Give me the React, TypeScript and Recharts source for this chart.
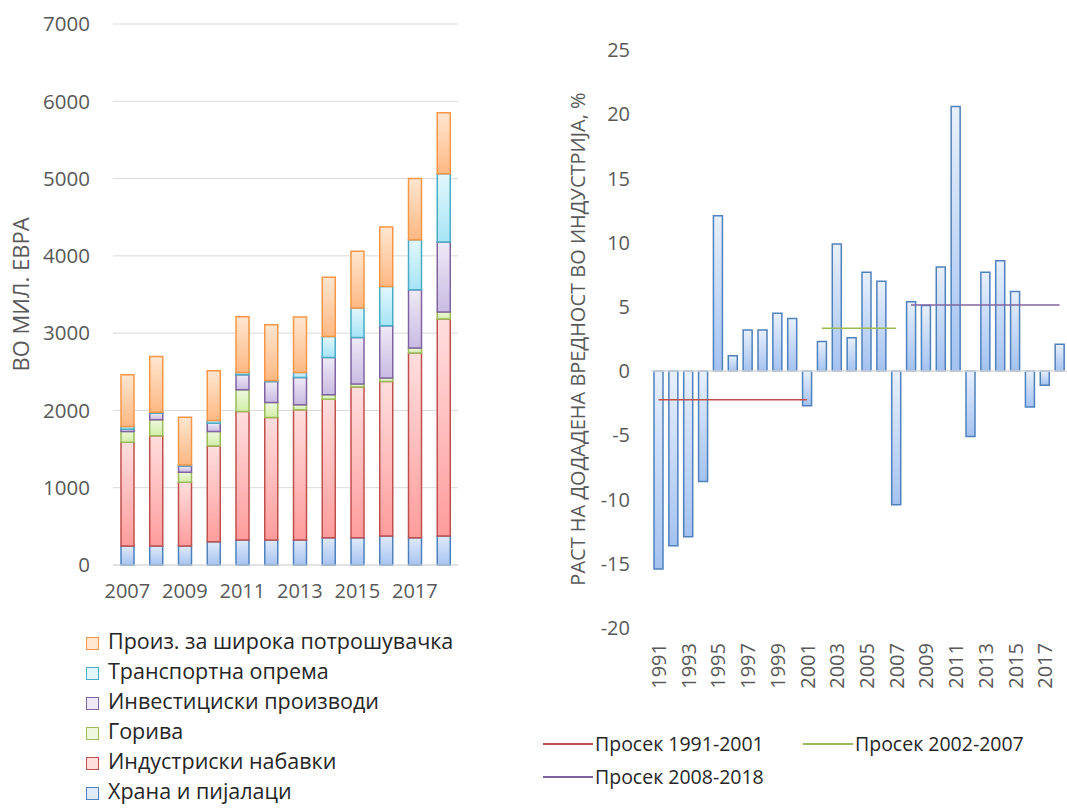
import React from 'react';
import {
  BarChart,
  Bar,
  ComposedChart,
  Line,
  XAxis,
  YAxis,
  CartesianGrid,
  ReferenceLine,
  Label,
} from 'recharts';

// Left chart: imports by product group, million EUR
const years = ['2007', '2008', '2009', '2010', '2011', '2012', '2013', '2014', '2015', '2016', '2017', '2018'];
const food = [246, 246, 246, 302, 324, 324, 324, 354, 354, 376, 354, 376];
const industrial = [1343, 1425, 825, 1239, 1662, 1584, 1684, 1792, 1948, 1998, 2388, 2807];
const fuels = [138, 207, 129, 186, 281, 194, 65, 56, 39, 44, 65, 90];
const invest = [31, 87, 82, 108, 194, 272, 353, 483, 603, 678, 755, 907];
const transport = [33, 13, 13, 34, 30, 13, 65, 272, 381, 509, 648, 881];
const consumer = [670, 720, 618, 644, 721, 722, 717, 765, 733, 769, 790, 790];
const leftTicks = [0, 1000, 2000, 3000, 4000, 5000, 6000, 7000];

// Right chart: growth of industrial value added, %
const growthYears = [
  '1991', '1992', '1993', '1994', '1995', '1996', '1997', '1998', '1999', '2000', '2001', '2002', '2003', '2004',
  '2005', '2006', '2007', '2008', '2009', '2010', '2011', '2012', '2013', '2014', '2015', '2016', '2017', '2018',
];
const growth = [
  -15.4, -13.6, -12.9, -8.6, 12.1, 1.2, 3.2, 3.2, 4.5, 4.1, -2.7, 2.3, 9.9, 2.6,
  7.7, 7.0, -10.4, 5.4, 5.1, 8.1, 20.6, -5.1, 7.7, 8.6, 6.2, -2.8, -1.1, 2.1,
];
const avg1991 = [
  -2.23, -2.23, -2.23, -2.23, -2.23, -2.23, -2.23, -2.23, -2.23, -2.23, -2.23, null, null, null,
  null, null, null, null, null, null, null, null, null, null, null, null, null, null,
];
const avg2002 = [
  null, null, null, null, null, null, null, null, null, null, null, 3.33, 3.33, 3.33,
  3.33, 3.33, 3.33, null, null, null, null, null, null, null, null, null, null, null,
];
const avg2008 = [
  null, null, null, null, null, null, null, null, null, null, null, null, null, null,
  null, null, null, 5.14, 5.14, 5.14, 5.14, 5.14, 5.14, 5.14, 5.14, 5.14, 5.14, 5.14,
];
const rightTicks = [-20, -15, -10, -5, 0, 5, 10, 15, 20, 25];

const FONT = '"Open Sans", sans-serif';
const TICK_COLOR = '#595959';

const series = [
  { key: 'food', name: 'Храна и пијалаци', stroke: '#4f81bd', light: '#dfeafb', dark: '#a7c4f0' },
  { key: 'industrial', name: 'Индустриски набавки', stroke: '#c0504d', light: '#ffdede', dark: '#ff9c9c' },
  { key: 'fuels', name: 'Горива', stroke: '#9bbb59', light: '#eef8de', dark: '#d2eea8' },
  { key: 'invest', name: 'Инвестициски производи', stroke: '#8064a2', light: '#efe9f7', dark: '#c9bbe2' },
  { key: 'transport', name: 'Транспортна опрема', stroke: '#4bacc6', light: '#e2f7fd', dark: '#a6e4f6' },
  { key: 'consumer', name: 'Произ. за широка потрошувачка', stroke: '#f79646', light: '#fee6d0', dark: '#fdb883' },
];

const importData = years.map((y, i) => ({
  year: y,
  food: food[i],
  industrial: industrial[i],
  fuels: fuels[i],
  invest: invest[i],
  transport: transport[i],
  consumer: consumer[i],
}));

const growthData = growthYears.map((y, i) => ({
  year: y,
  growth: growth[i],
  avg1991: avg1991[i],
  avg2002: avg2002[i],
  avg2008: avg2008[i],
}));

const averages = [
  { key: 'avg1991', name: 'Просек 1991-2001', color: '#c0504d' },
  { key: 'avg2002', name: 'Просек 2002-2007', color: '#9bbb59' },
  { key: 'avg2008', name: 'Просек 2008-2018', color: '#8064a2' },
];

function ImportLegend() {
  return (
    <div style={{ position: 'absolute', left: 86, top: 626, fontFamily: FONT, fontSize: 21.5, color: '#262626', lineHeight: 1 }}>
      {[...series].reverse().map((s) => (
        <div key={s.key} style={{ display: 'flex', alignItems: 'center', height: 30, whiteSpace: 'nowrap' }}>
          <span
            style={{
              display: 'inline-block',
              width: 11,
              height: 11,
              border: `1.5px solid ${s.stroke}`,
              background: s.light,
              marginRight: 9,
              marginTop: 4,
            }}
          />
          <span>{s.name}</span>
        </div>
      ))}
    </div>
  );
}

function GrowthLegend() {
  return (
    <div style={{ position: 'absolute', left: 543, top: 734, fontFamily: FONT, fontSize: 19.5, color: '#262626', lineHeight: 1 }}>
      {averages.map((a, i) => {
        const left = i === 1 ? 260 : 0;
        const top = i === 2 ? 33 : 0;
        return (
          <div key={a.key} style={{ position: 'absolute', left, top, display: 'flex', alignItems: 'center', whiteSpace: 'nowrap' }}>
            <span style={{ display: 'inline-block', width: 50, height: 0, borderTop: `2px solid ${a.color}`, marginRight: 2 }} />
            <span>{a.name}</span>
          </div>
        );
      })}
    </div>
  );
}

const RotatedTick = (props: any) => {
  const { x, y, payload } = props;
  return (
    <text
      x={x}
      y={y}
      transform={`rotate(-90 ${x} ${y})`}
      textAnchor="end"
      dominantBaseline="central"
      fill={TICK_COLOR}
      fontSize={20}
      fontFamily={FONT}
    >
      {payload.value}
    </text>
  );
};

function ImportsChart() {
  return (
    <BarChart
      width={470}
      height={620}
      data={importData}
      margin={{ top: 24, right: 12, left: 0, bottom: 15 }}
      barSize={13}
    >
      <defs>
        {series.map((s) => (
          <linearGradient key={s.key} id={`g-${s.key}`} x1="0" y1="0" x2="0" y2="1">
            <stop offset="0%" stopColor={s.light} />
            <stop offset="100%" stopColor={s.dark} />
          </linearGradient>
        ))}
      </defs>
      <CartesianGrid vertical={false} stroke="#d9d9d9" />
      <XAxis
        dataKey="year"
        interval={1}
        tickLine={false}
        axisLine={{ stroke: '#d9d9d9' }}
        tickSize={0}
        tickMargin={19}
        height={40}
        tick={{ fill: TICK_COLOR, fontSize: 20, fontFamily: FONT }}
      />
      <YAxis
        domain={[0, 7000]}
        ticks={leftTicks}
        width={113}
        axisLine={false}
        tickLine={false}
        tickSize={0}
        tickMargin={23}
        tick={{ fill: TICK_COLOR, fontSize: 20.5, fontFamily: FONT }}
      >
        <Label
          content={(p: any) => {
            const vb = p.viewBox;
            const cx = 20;
            const cy = vb.y + vb.height / 2;
            return (
              <text
                x={cx}
                y={cy}
                transform={`rotate(-90 ${cx} ${cy})`}
                textAnchor="middle"
                dominantBaseline="central"
                fill={TICK_COLOR}
                fontSize={22}
                fontFamily={FONT}
              >
                ВО МИЛ. ЕВРА
              </text>
            );
          }}
        />
      </YAxis>
      {series.map((s) => (
        <Bar
          key={s.key}
          dataKey={s.key}
          name={s.name}
          stackId="a"
          fill={`url(#g-${s.key})`}
          stroke={s.stroke}
          strokeWidth={1.5}
          isAnimationActive={false}
        />
      ))}
    </BarChart>
  );
}

function GrowthChart() {
  return (
    <ComposedChart
      width={547}
      height={710}
      data={growthData}
      margin={{ top: 50, right: 0, left: 0, bottom: 22 }}
      barSize={9}
    >
      <defs>
        <linearGradient id="g-growth" x1="0" y1="0" x2="0" y2="1">
          <stop offset="0%" stopColor="#e8f0fd" />
          <stop offset="100%" stopColor="#a4c2f0" />
        </linearGradient>
      </defs>
      <XAxis
        dataKey="year"
        interval={1}
        axisLine={false}
        tickLine={false}
        tickSize={0}
        tickMargin={15}
        height={60}
        tick={<RotatedTick />}
      />
      <YAxis
        domain={[-20, 25]}
        ticks={rightTicks}
        width={131}
        axisLine={false}
        tickLine={false}
        tickSize={0}
        tickMargin={21}
        tick={{ fill: TICK_COLOR, fontSize: 20, fontFamily: FONT }}
      >
        <Label
          content={(p: any) => {
            const vb = p.viewBox;
            const cx = 57;
            const cy = vb.y + vb.height / 2;
            return (
              <text
                x={cx}
                y={cy}
                transform={`rotate(-90 ${cx} ${cy})`}
                textAnchor="middle"
                dominantBaseline="central"
                fill={TICK_COLOR}
                fontSize={20}
                fontFamily={FONT}
              >
                РАСТ НА ДОДАДЕНА ВРЕДНОСТ ВО ИНДУСТРИЈА, %
              </text>
            );
          }}
        />
      </YAxis>
      <ReferenceLine y={0} stroke="#d9d9d9" strokeWidth={1.5} />
      <Bar
        dataKey="growth"
        fill="url(#g-growth)"
        stroke="#4f81bd"
        strokeWidth={1.5}
        isAnimationActive={false}
      />
      {averages.map((a) => (
        <Line
          key={a.key}
          dataKey={a.key}
          name={a.name}
          stroke={a.color}
          strokeWidth={1.5}
          dot={false}
          activeDot={false}
          connectNulls={false}
          isAnimationActive={false}
        />
      ))}
    </ComposedChart>
  );
}

export default function App() {
  return (
    <div style={{ position: 'absolute', left: 0, top: 0, width: 1067, height: 810, background: '#fff', overflow: 'hidden' }}>
      <div style={{ position: 'absolute', left: 0, top: 0 }}>
        <ImportsChart />
      </div>
      <ImportLegend />
      <div style={{ position: 'absolute', left: 520, top: 0 }}>
        <GrowthChart />
      </div>
      <GrowthLegend />
    </div>
  );
}
